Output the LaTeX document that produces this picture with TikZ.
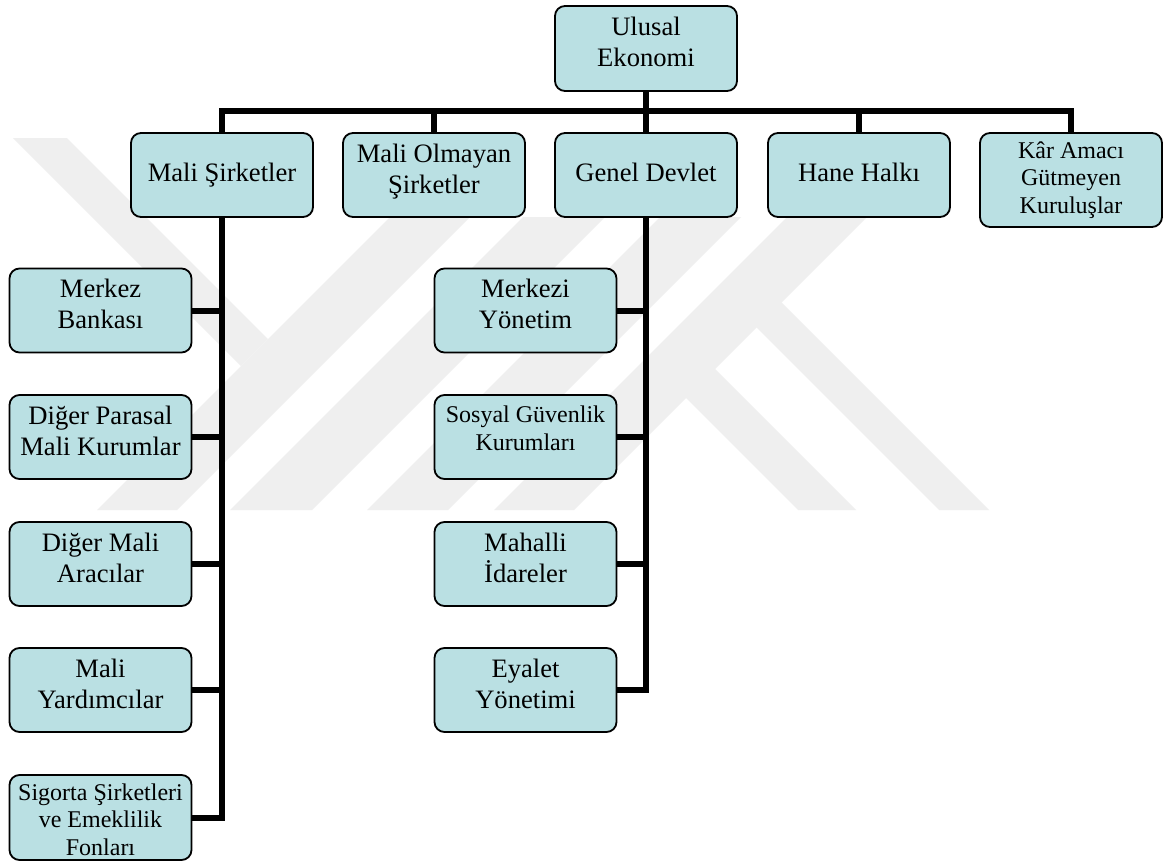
\documentclass[tikz,border=0pt]{standalone}
\usepackage{fontspec}
\setmainfont{Liberation Serif}
\definecolor{boxfill}{RGB}{186,224,227}
\definecolor{wm}{RGB}{239,239,239}
\begin{document}
\begin{tikzpicture}[x=1pt,y=-1pt,
  box/.style={draw=black, line width=1.8pt, fill=boxfill, rounded corners=10pt,
    inner sep=0pt, minimum width=182pt, minimum height=84pt, align=center,
    font=\fontsize{26.6}{31}\selectfont, text depth=0pt, text height=36pt},
  small/.style={font=\fontsize{24}{27.5}\selectfont},
  th/.style={text height=#1},
  link/.style={draw=black, line width=6pt, line join=miter},
  wmark/.style={fill=wm}
]
\useasboundingbox (0,0) rectangle (1163,862);
\fill[white] (0,0) rectangle (1163,862);

% watermark
\fill[wmark] (13,138) -- (67,138) -- (268,339) -- (241,366) -- cycle;
\fill[wmark] (97,510) -- (177,510) -- (470,217) -- (390,217) -- cycle;
\fill[wmark] (230,510) -- (312,510) -- (605,217) -- (523,217) -- cycle;
\fill[wmark] (367,510) -- (448,510) -- (741,217) -- (660,217) -- cycle;
\fill[wmark] (494,510) -- (574,510) -- (867,217) -- (787,217) -- cycle;
\fill[wmark] (674,386) -- (703,357) -- (856,510) -- (798,510) -- cycle;
\fill[wmark] (747,318) -- (772,293) -- (989,510) -- (939,510) -- cycle;

% boxes
\node[box,th=35pt] (ulusal) at (646,48.5) [minimum height=85pt] {Ulusal\\Ekonomi};
\node[box,th=12pt] (malis) at (222,175) {Mali Şirketler};
\node[box] (maliol) at (434,175) {Mali Olmayan\\Şirketler};
\node[box,th=12pt] (genel) at (646,175) {Genel Devlet};
\node[box,th=12pt] (hane) at (859,175) {Hane Halkı};
\node[box,small,th=66pt,minimum height=94pt] (kar) at (1071,180) {Kâr Amacı\\Gütmeyen\\Kuruluşlar};

\node[box] (merkezb) at (100.5,310.5) {Merkez\\Bankası};
\node[box] (digerp) at (100.5,437) {Diğer Parasal\\Mali Kurumlar};
\node[box] (digerm) at (100.5,564) {Diğer Mali\\Aracılar};
\node[box] (maliy) at (100.5,690) {Mali\\Yardımcılar};
\node[box,small,th=75pt,minimum height=85pt] (sigorta) at (100.5,817.5) {Sigorta Şirketleri\\ve Emeklilik\\Fonları};

\node[box] (merkezy) at (525.5,310.5) {Merkezi\\Yönetim};
\node[box,small,th=26pt] (sosyal) at (525.5,437) {Sosyal Güvenlik\\Kurumları};
\node[box] (mahalli) at (525.5,564) {Mahalli\\İdareler};
\node[box] (eyalet) at (525.5,690) {Eyalet\\Yönetimi};

% connectors
\coordinate (busL) at (222,111);
\coordinate (busR) at (1071,111);
\draw[link] (malis.north) -- (busL) -- (busR) -- (kar.north);
\draw[link] (ulusal.south) -- (genel.north);
\draw[link] (maliol.north) -- (maliol.north |- busL);
\draw[link] (hane.north) -- (hane.north |- busL);

\draw[link] (malis.south) |- (sigorta.east);
\draw[link] (merkezb.east) -- (merkezb.east -| malis.south);
\draw[link] (digerp.east) -- (digerp.east -| malis.south);
\draw[link] (digerm.east) -- (digerm.east -| malis.south);
\draw[link] (maliy.east) -- (maliy.east -| malis.south);

\draw[link] (genel.south) |- (eyalet.east);
\draw[link] (merkezy.east) -- (merkezy.east -| genel.south);
\draw[link] (sosyal.east) -- (sosyal.east -| genel.south);
\draw[link] (mahalli.east) -- (mahalli.east -| genel.south);
\end{tikzpicture}
\end{document}
